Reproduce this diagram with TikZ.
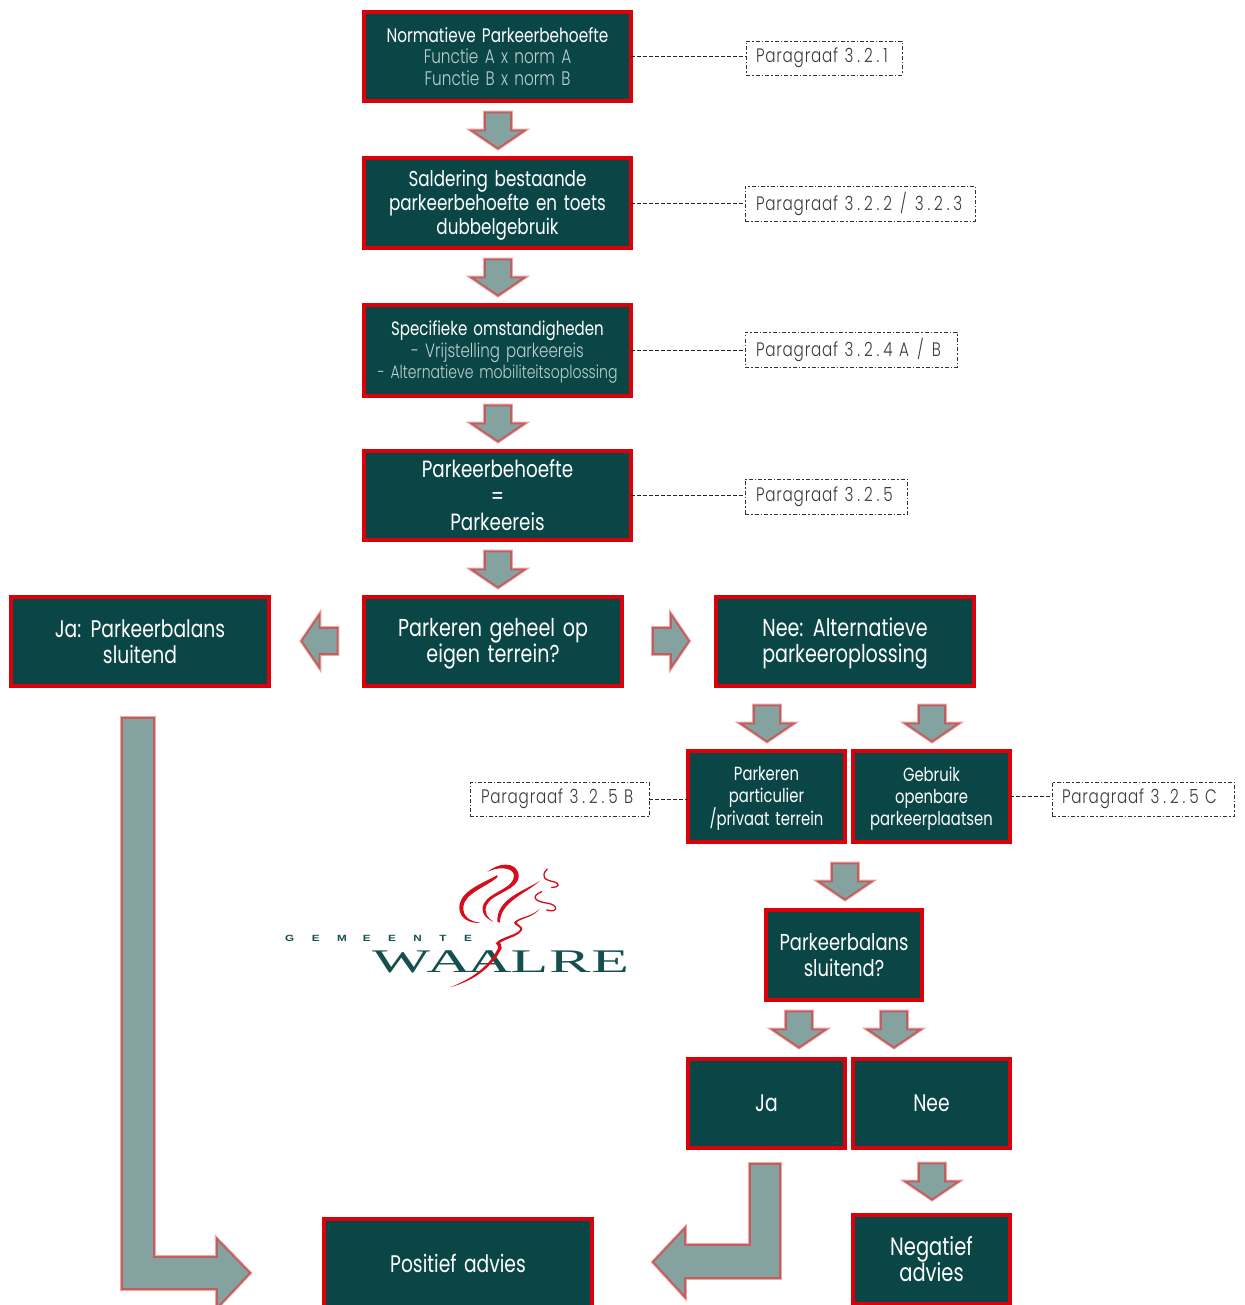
\documentclass[tikz,border=0pt]{standalone}
\usepackage{fontspec}
\setmainfont{Poppins}[FakeStretch=0.78,WordSpace=1.5]
\newfontfamily\sublight{Poppins Light}[FakeStretch=0.78,WordSpace=1.5]
\newfontfamily\parafont{Poppins Light}[FakeStretch=0.78,LetterSpace=4,WordSpace=1.3]
\newfontfamily\paradigits{Poppins Light}[FakeStretch=0.78,LetterSpace=20]
\newfontfamily\logoserif{Liberation Serif}[FakeStretch=1.87]
\newfontfamily\logosans{Liberation Sans Bold}[FakeStretch=1.3]
\definecolor{boxfill}{HTML}{0A4646}
\definecolor{boxred}{HTML}{DC0008}
\definecolor{arrfill}{HTML}{84A3A0}
\definecolor{arrin}{HTML}{BE5F60}
\definecolor{arrout}{HTML}{F2A3A3}
\definecolor{subtext}{HTML}{BCD0CE}
\definecolor{paratext}{HTML}{3A3A3A}
\definecolor{logored}{HTML}{D40F1B}
\definecolor{logogreen}{HTML}{14504E}
\tikzset{
  x=1pt,y=-1pt,
  flowbox/.style={rectangle,draw=boxred,fill=boxfill,line width=4pt,text=white,align=center,inner sep=0pt,outer sep=0pt},
  parabox/.style={rectangle,draw=black!80,dash pattern=on 4pt off 2pt on 1.5pt off 2pt,line width=0.7pt,text=paratext,font=\parafont\fontsize{19.5}{22}\selectfont,inner sep=0pt,outer sep=0pt,align=left},
  paraline/.style={draw=black!85,dash pattern=on 4pt off 2pt,line width=0.8pt},
  arrowpaint/.style={fill=arrfill,draw=arrin,line width=1.8pt,miter limit=8,preaction={draw=arrout,line width=3.6pt}},
  swirl/.style={fill=logored,draw=none}
}
\newcommand{\flowbox}[8]{% name x0 y0 x1 y1 font-size leading text
  \node[flowbox,minimum width=#4pt-#2pt-4pt,minimum height=#5pt-#3pt-4pt,font=\fontsize{#6}{#7}\selectfont] (#1) at ({(#2+#4)/2},{(#3+#5)/2}) {#8};}
\newcommand{\parabox}[6]{% name x0 y0 x1 y1 text
  \node[parabox,minimum width=#4pt-#2pt,minimum height=#5pt-#3pt,text width=#4pt-#2pt-20pt] (#1) at ({(#2+#4)/2},{(#3+#5)/2}) {#6};}
\newcommand{\blockarrow}[4]{% name x y rotation
  \coordinate (#1) at (#2,#3);
  \path[arrowpaint,shift={(#1)},rotate=#4] (-18,-13) -- (0,-13) -- (0,-26.5) -- (18,0) -- (0,26.5) -- (0,13) -- (-18,13) -- cycle;}
\newcommand{\subl}[1]{{\sublight\color{subtext}#1}}
\newcommand{\pn}[1]{{\paradigits #1}}
\newcommand{\dn}[1]{\rule{0pt}{#1pt}}
\begin{document}
\begin{tikzpicture}
\useasboundingbox (0,0) rectangle (1244,1305);
\clip (0,0) rectangle (1244,1305);

\flowbox{b1}{362}{10}{633}{103}{19.6}{21.5}{Normatieve Parkeerbehoefte\\\subl{Functie A x norm A}\\\subl{Functie B x norm B}}
\flowbox{b2}{362}{156}{633}{250}{21.5}{24}{\dn{20}Saldering bestaande\\parkeerbehoefte en toets\\dubbelgebruik}
\flowbox{b3}{362}{303}{633}{398}{19.3}{21.5}{\dn{18.5}Specifieke omstandigheden\\\subl{- Vrijstelling parkeereis}\\{\fontsize{18}{21.5}\selectfont\subl{- Alternatieve mobiliteitsoplossing}}}
\flowbox{b4}{362}{449}{633}{542}{23.5}{26.5}{Parkeerbehoefte\\=\\Parkeereis}
\flowbox{b5}{362}{595}{624}{688}{24.5}{26}{\dn{22.5}Parkeren geheel op\\eigen terrein?}
\flowbox{ja1}{9}{595}{271}{688}{24}{26}{Ja: Parkeerbalans\\sluitend}
\flowbox{nee1}{714}{595}{976}{688}{24.5}{26}{\dn{22.5}Nee: Alternatieve\\parkeeroplossing}
\flowbox{part}{686}{749}{847}{844}{19}{22}{\dn{18}Parkeren\\particulier\\/privaat terrein}
\flowbox{geb}{851}{749}{1012}{844}{19}{22}{\dn{18}Gebruik\\openbare\\parkeerplaatsen}
\flowbox{bal}{764}{908}{924}{1002}{23}{26}{Parkeerbalans\\sluitend?}
\flowbox{ja2}{686}{1057}{847}{1150}{24}{26}{Ja}
\flowbox{nee2}{851}{1057}{1012}{1150}{24}{26}{Nee}
\flowbox{pos}{322}{1217}{594}{1310}{24}{26}{Positief advies}
\flowbox{neg}{851}{1213}{1012}{1306}{25}{26}{Negatief\\advies}

\parabox{p1}{746}{41}{902}{75}{Paragraaf \pn{3.2.1}}
\parabox{p2}{745}{186}{975}{221}{\hspace{1pt}Paragraaf \pn{3.2.2}\hspace{1.5pt} / \hspace{1.5pt}\pn{3.2.3}}
\parabox{p3}{745}{332}{957}{367}{\hspace{1pt}Paragraaf \pn{3.2.4} A\hspace{1.5pt} / \hspace{1.5pt}B}
\parabox{p4}{745}{479}{907}{514}{\hspace{1pt}Paragraaf \pn{3.2.5}}
\parabox{p5}{470}{782}{649}{816}{\hspace{1pt}Paragraaf \pn{3.2.5} B}
\parabox{p6}{1052}{782}{1234}{816}{Paragraaf \pn{3.2.5} C}

\draw[paraline] (b1.east) -- (b1.east -| p1.west);
\draw[paraline] (b2.east) -- (b2.east -| p2.west);
\draw[paraline] (b3.east) -- (b3.east -| p3.west);
\draw[paraline] (b4.east) -- (b4.east -| p4.west);
\draw[paraline] (p5.east) -- (p5.east -| part.west);
\draw[paraline] (geb.east) -- (geb.east -| p6.west);

% block arrows
\blockarrow{a1}{498}{130.5}{-90}
\blockarrow{a2}{498}{277.5}{-90}
\blockarrow{a3}{498}{423.5}{-90}
\blockarrow{a4}{498}{569.5}{-90}
\blockarrow{a5}{319.5}{641}{180}
\blockarrow{a6}{671}{641}{0}
\blockarrow{a7}{767}{723.5}{-90}
\blockarrow{a8}{932}{723.5}{-90}
\blockarrow{a9}{845}{881.5}{-90}
\blockarrow{a10}{799}{1029.5}{-90}
\blockarrow{a11}{894}{1029.5}{-90}
\blockarrow{a12}{932}{1181.5}{-90}
\path[arrowpaint] (122,718) -- (154,718) -- (154,1257) -- (217,1257) -- (217,1239) -- (250,1273) -- (217,1308) -- (217,1289) -- (122,1289) -- cycle;
\path[arrowpaint] (780,1164) -- (750,1164) -- (750,1245) -- (685,1245) -- (685,1228) -- (653,1262) -- (685,1297) -- (685,1278) -- (780,1278) -- cycle;

% logo
\node[inner sep=0pt,text=logogreen,anchor=west] (gem) at (285,938) {\logosans\fontsize{9}{9}\selectfont G\hspace{17.5pt}E\hspace{17.5pt}M\hspace{16pt}E\hspace{17.5pt}E\hspace{17.5pt}N\hspace{17.5pt}T\hspace{17.5pt}E};
\node[inner sep=0pt,text=logogreen,anchor=west] (waalre) at (372,961.5) {\logoserif\fontsize{33}{33}\selectfont W\kern-4pt A\kern-4pt A\kern-1pt L\kern1pt R\kern1pt E};
\begin{scope}[shift={(270,850)},x=0.3333pt,y=-0.3333pt]
\fill[swirl] (682,75) .. controls (640,100) and (572,120) .. (568,170) .. controls (566,205) and (600,222) .. (632,218) .. controls (600,215) and (578,200) .. (580,170) .. controls (584,130) and (650,110) .. (682,82) -- cycle;
\fill[swirl] (652,66) .. controls (680,40) and (740,30) .. (746,75) .. controls (750,120) and (665,130) .. (650,165) .. controls (640,190) and (655,205) .. (670,215) .. controls (645,205) and (630,185) .. (642,160) .. controls (660,125) and (735,115) .. (732,75) .. controls (728,50) and (680,50) .. (652,66) -- cycle;
\fill[swirl] (810,92) .. controls (760,125) and (680,145) .. (682,215) -- (690,218) .. controls (690,155) and (770,130) .. (810,92) -- cycle;
\draw[logored,line width=1.3pt,line cap=round] (832,57) .. controls (810,80) and (825,90) .. (850,95) .. controls (870,100) and (870,112) .. (845,112);
\draw[logored,line width=1.3pt,line cap=round] (815,125) .. controls (780,140) and (795,155) .. (835,160) .. controls (865,165) and (865,190) .. (830,180);
\fill[swirl] (810,175) .. controls (790,200) and (745,200) .. (732,218) .. controls (735,228) and (755,230) .. (750,240) .. controls (740,255) and (690,262) .. (677,280) .. controls (680,288) and (688,285) .. (684,295) .. controls (660,345) and (610,385) .. (540,412) .. controls (620,390) and (670,345) .. (695,295) .. controls (697,285) and (690,282) .. (690,278) .. controls (710,265) and (750,258) .. (757,238) .. controls (758,228) and (742,225) .. (740,216) .. controls (755,205) and (795,200) .. (810,175) -- cycle;
\end{scope}
\end{tikzpicture}
\end{document}
